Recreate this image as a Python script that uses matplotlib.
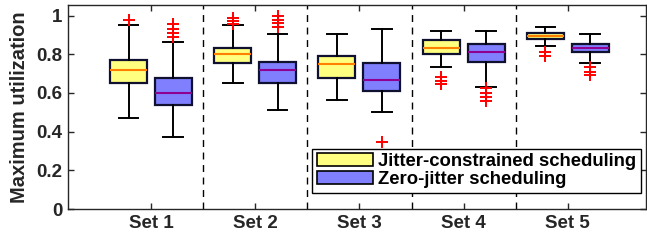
import matplotlib
matplotlib.use("Agg")
import matplotlib.pyplot as plt
from matplotlib.patches import Patch

sets = ["Set 1", "Set 2", "Set 3", "Set 4", "Set 5"]
series_names = ["Jitter-constrained scheduling", "Zero-jitter scheduling"]

# Jitter-constrained scheduling
jc_q1 = [0.653, 0.754, 0.679, 0.802, 0.879]
jc_med = [0.717, 0.800, 0.748, 0.833, 0.897]
jc_q3 = [0.772, 0.835, 0.793, 0.874, 0.912]
jc_lo = [0.472, 0.653, 0.564, 0.733, 0.845]
jc_hi = [0.952, 0.952, 0.904, 0.922, 0.940]
jc_fliers = [[0.979], [0.990, 0.972, 0.957], [], [0.684, 0.664, 0.647], [0.814, 0.792]]

# Zero-jitter scheduling
zj_q1 = [0.536, 0.652, 0.610, 0.762, 0.812]
zj_med = [0.602, 0.721, 0.667, 0.812, 0.831]
zj_q3 = [0.678, 0.762, 0.755, 0.855, 0.854]
zj_lo = [0.372, 0.514, 0.503, 0.633, 0.754]
zj_hi = [0.866, 0.904, 0.931, 0.922, 0.904]
zj_fliers = [[0.957, 0.931, 0.909, 0.888], [1.000, 0.980, 0.960, 0.940], [0.345],
             [0.628, 0.602, 0.581, 0.560], [0.733, 0.710, 0.693]]

yticks = [0, 0.2, 0.4, 0.6, 0.8, 1]
ytick_labels = ["0", "0.2", "0.4", "0.6", "0.8", "1"]

plt.rcParams['font.family'] = ['Liberation Sans', 'DejaVu Sans']
plt.rcParams['font.weight'] = 'bold'

fig = plt.figure(figsize=(6.47, 2.42), dpi=100)
ax = fig.add_axes([68/647, 33/242, 578/647, 204/242])

def stats(q1, med, q3, lo, hi, fl):
    return [dict(q1=a, med=b, q3=c, whislo=d, whishi=e, fliers=f)
            for a, b, c, d, e, f in zip(q1, med, q3, lo, hi, fl)]

offset = 0.215
width = 0.355
common = dict(widths=width, patch_artist=True, showfliers=True,
              whiskerprops=dict(color='black', linewidth=1.4),
              capprops=dict(color='black', linewidth=1.4),
              flierprops=dict(marker='+', markeredgecolor='red', markersize=9, markeredgewidth=1.4),
              capwidths=0.19)
pos = list(range(1, len(sets) + 1))
ax.bxp(stats(jc_q1, jc_med, jc_q3, jc_lo, jc_hi, jc_fliers),
       positions=[p - offset for p in pos],
       boxprops=dict(facecolor='#FFFF80', edgecolor='#101030', linewidth=1.6),
       medianprops=dict(color='#FF8000', linewidth=1.5), **common)
ax.bxp(stats(zj_q1, zj_med, zj_q3, zj_lo, zj_hi, zj_fliers),
       positions=[p + offset for p in pos],
       boxprops=dict(facecolor='#8080FF', edgecolor='#101030', linewidth=1.6),
       medianprops=dict(color='#900090', linewidth=1.5), **common)

for p in pos[:-1]:
    ax.axvline(p + 0.5, color='black', linestyle=(0, (5, 4)), linewidth=1.0, zorder=0)

ax.set_xlim(0.204, 5.75)
ax.set_ylim(0, 1.055)
ax.set_xticks(pos)
ax.set_xticklabels(sets)
ax.set_yticks(yticks)
ax.set_yticklabels(ytick_labels)
ax.tick_params(direction='in', top=True, right=True, length=4, width=1,
               labelsize=13.5, colors='#262626', labelcolor='#262626', pad=4)
for s in ax.spines.values():
    s.set_color('#262626')
    s.set_linewidth(1.0)
ax.set_ylabel("Maximum utilization", fontsize=14.5, fontweight='bold', color='#262626', labelpad=5)

handles = [Patch(facecolor='#FFFF80', edgecolor='black', linewidth=1.2),
           Patch(facecolor='#8080FF', edgecolor='black', linewidth=1.2)]
leg = ax.legend(handles, series_names, loc='upper left', bbox_to_anchor=(0.423, 0.296),
                fontsize=13.3, frameon=True, fancybox=False, edgecolor='black',
                handlelength=3.0, handleheight=0.72, handletextpad=0.3,
                labelspacing=0.05, borderpad=0.25, borderaxespad=0)
leg.get_frame().set_linewidth(1.0)
leg.get_frame().set_alpha(None)
leg.set_clip_on(False)

fig.savefig("out.png", dpi=100)
